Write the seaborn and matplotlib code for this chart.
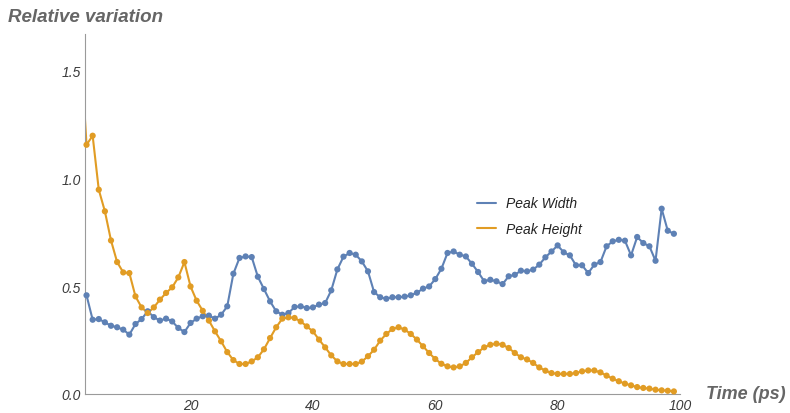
import numpy as np
import pandas as pd
import matplotlib
matplotlib.use("Agg")
import matplotlib.pyplot as plt
import seaborn as sns
from matplotlib.lines import Line2D
from matplotlib.ticker import MultipleLocator

# Data (time in ps)
width_time = np.arange(3, 100)
peak_width = [
    0.457, 0.344, 0.347, 0.332, 0.316, 0.309, 0.298, 0.275, 0.324, 0.347,
    0.383, 0.356, 0.340, 0.349, 0.336, 0.306, 0.287, 0.329, 0.349, 0.360,
    0.363, 0.349, 0.367, 0.406, 0.557, 0.630, 0.637, 0.634, 0.543, 0.486,
    0.429, 0.383, 0.367, 0.375, 0.403, 0.406, 0.398, 0.401, 0.414, 0.421,
    0.480, 0.577, 0.636, 0.653, 0.645, 0.614, 0.568, 0.472, 0.448, 0.441,
    0.448, 0.448, 0.451, 0.457, 0.469, 0.488, 0.498, 0.532, 0.580, 0.653,
    0.660, 0.645, 0.637, 0.603, 0.565, 0.522, 0.529, 0.522, 0.509, 0.545,
    0.552, 0.571, 0.568, 0.576, 0.599, 0.633, 0.660, 0.688, 0.656, 0.642,
    0.596, 0.596, 0.560, 0.599, 0.611, 0.684, 0.707, 0.714, 0.710, 0.642,
    0.727, 0.699, 0.684, 0.617, 0.858, 0.756, 0.742,
]

height_time = np.arange(2, 100)
peak_height = [
    1.62, 1.154, 1.196, 0.946, 0.846, 0.711, 0.611, 0.563, 0.560, 0.452,
    0.401, 0.375, 0.401, 0.437, 0.468, 0.494, 0.540, 0.611, 0.498, 0.432,
    0.385, 0.340, 0.290, 0.244, 0.194, 0.157, 0.139, 0.139, 0.151, 0.170,
    0.207, 0.259, 0.309, 0.349, 0.355, 0.352, 0.336, 0.313, 0.290, 0.252,
    0.216, 0.179, 0.151, 0.139, 0.139, 0.139, 0.150, 0.175, 0.205, 0.247,
    0.278, 0.301, 0.309, 0.298, 0.278, 0.252, 0.221, 0.190, 0.162, 0.140,
    0.128, 0.123, 0.128, 0.144, 0.170, 0.194, 0.216, 0.228, 0.233, 0.228,
    0.213, 0.190, 0.170, 0.160, 0.144, 0.123, 0.108, 0.097, 0.093, 0.093,
    0.093, 0.097, 0.105, 0.109, 0.109, 0.100, 0.085, 0.071, 0.059, 0.048,
    0.040, 0.032, 0.028, 0.025, 0.020, 0.017, 0.015, 0.012,
]

series_names = ["Peak Width", "Peak Height"]
colors = {"Peak Width": "#5E81B5", "Peak Height": "#E19C24"}

df = pd.concat([
    pd.DataFrame({"time": width_time, "value": peak_width, "series": "Peak Width"}),
    pd.DataFrame({"time": height_time, "value": peak_height, "series": "Peak Height"}),
], ignore_index=True)

sns.set_style("white")
plt.rcParams["font.family"] = ["Liberation Sans", "DejaVu Sans"]

fig = plt.figure(figsize=(7.9, 4.14), dpi=100)
ax = fig.add_axes([85 / 790, 19 / 414, 595 / 790, 360 / 414])

x_min, x_max = 2.75, 100.0
y_max = 1.667

# lines (clipped at the axes), dots drawn on top
sns.lineplot(data=df, x="time", y="value", hue="series", hue_order=series_names,
             palette=colors, linewidth=1.5, legend=False, ax=ax, sort=True)
dots = df[df["time"] >= 3]
sns.scatterplot(data=dots, x="time", y="value", hue="series", hue_order=series_names,
                palette=colors, s=20, linewidth=0, legend=False, ax=ax, clip_on=False,
                zorder=3)

ax.set_xlim(x_min, x_max)
ax.set_ylim(0, y_max)
ax.set_xlabel("")
ax.set_ylabel("")

for side in ["top", "right"]:
    ax.spines[side].set_visible(False)
for side in ["left", "bottom"]:
    ax.spines[side].set_color("#9a9a9a")
    ax.spines[side].set_linewidth(0.8)

ax.xaxis.set_major_locator(MultipleLocator(20))
ax.xaxis.set_minor_locator(MultipleLocator(5))
ax.yaxis.set_major_locator(MultipleLocator(0.5))
ax.yaxis.set_minor_locator(MultipleLocator(0.1))
ax.tick_params(which="both", direction="in", color="#9a9a9a", width=0.8)
ax.tick_params(which="major", length=5)
ax.tick_params(which="minor", length=3)
ax.tick_params(axis="both", labelsize=10, labelcolor="#3a3a3a")
ax.tick_params(axis="x", pad=3)
ax.tick_params(axis="y", pad=3)
ax.set_xticks([20, 40, 60, 80, 100])
ax.set_xticklabels(["20", "40", "60", "80", "100"])
ax.set_yticks([0.0, 0.5, 1.0, 1.5])
ax.set_yticklabels(["0.0", "0.5", "1.0", "1.5"])
for lab in ax.get_xticklabels() + ax.get_yticklabels():
    lab.set_fontstyle("italic")

fig.text(8 / 790, 1 - 17 / 414, "Relative variation", fontsize=13.5,
         fontweight="bold", fontstyle="italic", color="#666666",
         ha="left", va="center")
fig.text(706 / 790, 1 - 395 / 414, "Time (ps)", fontsize=13,
         fontweight="bold", fontstyle="italic", color="#666666",
         ha="left", va="center")

handles = [Line2D([0], [0], color=colors[n], linewidth=1.5) for n in series_names]
leg = ax.legend(handles, series_names, loc="upper left",
                bbox_to_anchor=(464 / 790, 1 - 185 / 414),
                bbox_transform=fig.transFigure, frameon=False,
                fontsize=10, handlelength=1.4, handletextpad=0.7,
                labelspacing=0.85)
for t in leg.get_texts():
    t.set_fontstyle("italic")
    t.set_color("#222222")

fig.savefig("out.png", dpi=100)
